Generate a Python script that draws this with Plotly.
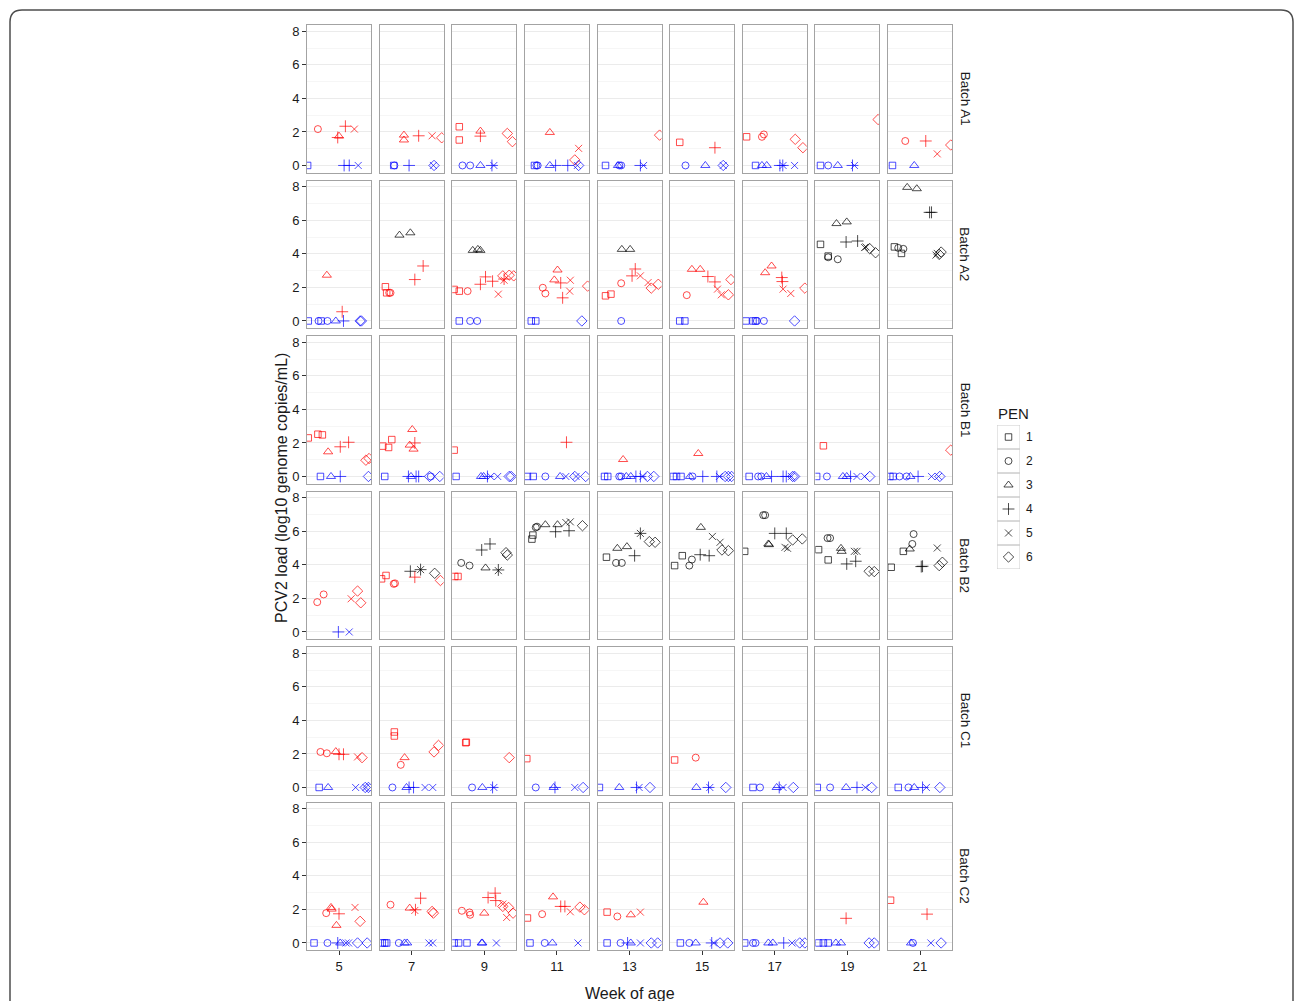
import plotly.graph_objects as go

# ---------------- data ----------------
weeks = [5, 7, 9, 11, 13, 15, 17, 19, 21]
batches = ["A1", "A2", "B1", "B2", "C1", "C2"]
pens = [1, 2, 3, 4, 5, 6]
pen_symbols = {1: "square-open", 2: "circle-open", 3: "triangle-up-open",
               4: "cross-thin-open", 5: "x-thin-open", 6: "diamond-open"}
pen_sizes = {1: 6.5, 2: 7, 3: 8, 4: 8.5, 5: 7, 6: 8}
status_colors = {"R": "#FF0000", "B": "#0000FF", "K": "#000000"}
y_ticks = [0, 2, 4, 6, 8]

# records: (week, pen, position within week (0-1), PCV2 load, status)
A1 = [
    (5,1,0.01,0,"B"),(5,2,0.17,2.17,"R"),(5,4,0.48,1.67,"R"),(5,3,0.50,1.75,"R"),(5,4,0.60,2.34,"R"),
    (5,5,0.74,2.17,"R"),(5,4,0.58,0,"B"),(5,4,0.66,0,"B"),(5,5,0.80,0,"B"),
    (7,3,0.38,1.81,"R"),(7,3,0.38,1.52,"R"),(7,4,0.61,1.77,"R"),(7,5,0.82,1.77,"R"),(7,6,0.97,1.65,"R"),
    (7,1,0.22,0,"B"),(7,2,0.23,0,"B"),(7,4,0.46,0,"B"),(7,5,0.84,0,"B"),(7,6,0.85,0,"B"),
    (9,1,0.11,2.31,"R"),(9,1,0.11,1.52,"R"),(9,3,0.44,2.05,"R"),(9,4,0.44,1.75,"R"),(9,6,0.86,1.91,"R"),
    (9,6,0.94,1.42,"R"),(9,2,0.16,0,"B"),(9,2,0.28,0,"B"),(9,3,0.44,0,"B"),(9,4,0.62,0,"B"),(9,5,0.65,0,"B"),
    (11,3,0.39,1.97,"R"),(11,5,0.84,1.02,"R"),(11,6,0.78,0.33,"R"),(11,1,0.15,0,"B"),(11,2,0.18,0,"B"),
    (11,2,0.20,0,"B"),(11,3,0.39,0,"B"),(11,4,0.48,0,"B"),(11,4,0.67,0,"B"),(11,5,0.82,0,"B"),(11,6,0.84,0,"B"),
    (13,1,0.125,0,"B"),(13,3,0.32,0,"B"),(13,2,0.34,0,"B"),(13,2,0.37,0,"B"),(13,4,0.67,0,"B"),
    (13,5,0.72,0,"B"),(13,6,0.97,1.81,"R"),
    (15,1,0.15,1.38,"R"),(15,4,0.70,1.06,"R"),(15,2,0.24,0,"B"),(15,3,0.55,0,"B"),(15,6,0.83,0,"B"),(15,5,0.83,0,"B"),
    (17,1,0.06,1.71,"R"),(17,2,0.30,1.71,"R"),(17,2,0.33,1.85,"R"),(17,6,0.82,1.56,"R"),(17,6,0.94,1.06,"R"),
    (17,1,0.20,0,"B"),(17,3,0.30,0,"B"),(17,3,0.375,0,"B"),(17,4,0.58,0,"B"),(17,4,0.625,0,"B"),
    (17,5,0.63,0,"B"),(17,5,0.81,0,"B"),
    (19,6,0.98,2.74,"R"),(19,1,0.08,0,"B"),(19,2,0.20,0,"B"),(19,3,0.35,0,"B"),(19,4,0.58,0,"B"),(19,5,0.61,0,"B"),
    (21,2,0.27,1.46,"R"),(21,4,0.59,1.46,"R"),(21,5,0.77,0.69,"R"),(21,6,0.98,1.22,"R"),(21,1,0.07,0,"B"),(21,3,0.41,0,"B"),
]

A2 = [
    (5,3,0.31,2.73,"R"),(5,4,0.55,0.55,"R"),(5,1,0.02,0,"B"),(5,2,0.18,0,"B"),(5,1,0.22,0,"B"),(5,2,0.32,0,"B"),
    (5,3,0.45,0,"B"),(5,4,0.57,0,"B"),(5,6,0.83,0,"B"),(5,6,0.85,0,"B"),
    (7,3,0.31,5.12,"K"),(7,3,0.48,5.26,"K"),(7,4,0.68,3.28,"R"),(7,4,0.55,2.47,"R"),(7,1,0.09,2.04,"R"),
    (7,1,0.11,1.68,"R"),(7,2,0.15,1.68,"R"),(7,2,0.17,1.68,"R"),
    (9,3,0.32,4.21,"K"),(9,3,0.40,4.27,"K"),(9,3,0.44,4.21,"K"),
    (9,1,0.03,1.88,"R"),(9,1,0.11,1.78,"R"),(9,2,0.24,1.78,"R"),(9,4,0.44,2.19,"R"),(9,4,0.52,2.63,"R"),
    (9,4,0.63,2.37,"R"),(9,5,0.72,1.60,"R"),(9,5,0.81,2.43,"R"),(9,4,0.81,2.50,"R"),(9,6,0.79,2.69,"R"),
    (9,6,0.89,2.73,"R"),(9,6,0.96,2.69,"R"),(9,1,0.11,0,"B"),(9,2,0.28,0,"B"),(9,2,0.39,0,"B"),
    (11,3,0.51,3.04,"R"),(11,3,0.46,2.45,"R"),(11,2,0.28,1.98,"R"),(11,2,0.32,1.64,"R"),(11,4,0.56,2.27,"R"),
    (11,4,0.59,1.38,"R"),(11,5,0.71,2.43,"R"),(11,5,0.70,1.78,"R"),(11,6,0.98,2.08,"R"),
    (11,1,0.10,0,"B"),(11,1,0.17,0,"B"),(11,6,0.89,0,"B"),
    (13,3,0.38,4.27,"K"),(13,3,0.51,4.27,"K"),(13,1,0.125,1.50,"R"),(13,1,0.21,1.60,"R"),(13,2,0.37,2.25,"R"),
    (13,4,0.59,3.10,"R"),(13,4,0.54,2.69,"R"),(13,5,0.67,2.69,"R"),(13,5,0.79,2.29,"R"),(13,6,0.84,1.96,"R"),
    (13,6,0.95,2.19,"R"),(13,2,0.37,0,"B"),
    (15,2,0.26,1.54,"R"),(15,3,0.34,3.08,"R"),(15,3,0.47,3.08,"R"),(15,4,0.59,2.65,"R"),(15,4,0.70,2.33,"R"),
    (15,5,0.74,1.90,"R"),(15,5,0.80,1.56,"R"),(15,6,0.91,1.56,"R"),(15,6,0.95,2.47,"R"),
    (15,1,0.15,0,"B"),(15,1,0.23,0,"B"),
    (17,3,0.35,2.88,"R"),(17,3,0.45,3.28,"R"),(17,4,0.61,2.59,"R"),(17,4,0.62,2.35,"R"),(17,5,0.63,1.90,"R"),
    (17,5,0.75,1.64,"R"),(17,6,0.97,1.96,"R"),(17,1,0.05,0,"B"),(17,1,0.16,0,"B"),(17,1,0.20,0,"B"),
    (17,2,0.22,0,"B"),(17,2,0.33,0,"B"),(17,6,0.81,0,"B"),
    (19,1,0.08,4.57,"K"),(19,1,0.20,3.87,"K"),(19,2,0.20,3.80,"K"),(19,2,0.35,3.68,"K"),(19,3,0.33,5.81,"K"),
    (19,3,0.49,5.91,"K"),(19,4,0.48,4.71,"K"),(19,4,0.66,4.77,"K"),(19,5,0.77,4.38,"K"),(19,5,0.79,4.42,"K"),
    (19,6,0.85,4.31,"K"),(19,6,0.94,4.07,"K"),
    (21,3,0.30,7.97,"K"),(21,3,0.45,7.89,"K"),(21,4,0.65,6.48,"K"),(21,4,0.68,6.48,"K"),(21,1,0.10,4.42,"K"),
    (21,2,0.16,4.36,"K"),(21,2,0.24,4.30,"K"),(21,1,0.21,4.03,"K"),(21,5,0.75,3.93,"K"),(21,5,0.77,4.03,"K"),
    (21,6,0.83,4.11,"K"),(21,6,0.80,3.97,"K"),
]

B1 = [
    (5,1,0.02,2.30,"R"),(5,1,0.17,2.52,"R"),(5,1,0.24,2.48,"R"),(5,3,0.33,1.47,"R"),(5,4,0.52,1.77,"R"),
    (5,4,0.65,2.04,"R"),(5,6,0.92,0.97,"R"),(5,6,0.97,1.07,"R"),
    (5,1,0.21,0,"B"),(5,3,0.375,0,"B"),(5,4,0.52,0,"B"),(5,6,0.96,0,"B"),
    (7,1,0.05,1.81,"R"),(7,1,0.14,1.73,"R"),(7,1,0.19,2.20,"R"),(7,3,0.51,2.80,"R"),(7,3,0.47,1.87,"R"),
    (7,3,0.53,1.63,"R"),(7,4,0.55,2.00,"R"),
    (7,1,0.08,0,"B"),(7,4,0.45,0,"B"),(7,3,0.49,0,"B"),(7,4,0.57,0,"B"),(7,4,0.61,0,"B"),(7,6,0.78,0,"B"),
    (7,2,0.80,0,"B"),(7,6,0.94,0,"B"),
    (9,1,0.03,1.57,"R"),(9,1,0.06,0,"B"),(9,3,0.45,0,"B"),(9,3,0.49,0,"B"),(9,4,0.55,0,"B"),(9,5,0.60,0,"B"),
    (9,5,0.71,0,"B"),(9,6,0.89,0,"B"),(9,6,0.92,0,"B"),
    (11,4,0.65,2.04,"R"),(11,1,0.04,0,"B"),(11,1,0.13,0,"B"),(11,2,0.32,0,"B"),(11,3,0.55,0,"B"),
    (11,5,0.64,0,"B"),(11,6,0.78,0,"B"),(11,5,0.80,0,"B"),(11,6,0.95,0,"B"),
    (13,3,0.40,1.01,"R"),(13,1,0.11,0,"B"),(13,1,0.16,0,"B"),(13,2,0.34,0,"B"),(13,2,0.37,0,"B"),
    (13,3,0.45,0,"B"),(13,3,0.52,0,"B"),(13,4,0.60,0,"B"),(13,4,0.67,0,"B"),(13,5,0.71,0,"B"),
    (13,6,0.78,0,"B"),(13,6,0.88,0,"B"),
    (15,3,0.44,1.37,"R"),(15,1,0.05,0,"B"),(15,1,0.10,0,"B"),(15,1,0.17,0,"B"),(15,3,0.31,0,"B"),
    (15,2,0.35,0,"B"),(15,4,0.51,0,"B"),(15,4,0.73,0,"B"),(15,5,0.77,0,"B"),(15,6,0.86,0,"B"),
    (15,6,0.91,0,"B"),(15,6,0.96,0,"B"),
    (17,1,0.10,0,"B"),(17,2,0.24,0,"B"),(17,2,0.29,0,"B"),(17,3,0.37,0,"B"),(17,4,0.45,0,"B"),
    (17,4,0.63,0,"B"),(17,4,0.68,0,"B"),(17,5,0.76,0,"B"),(17,6,0.78,0,"B"),(17,6,0.81,0,"B"),
    (19,1,0.125,1.83,"R"),(19,1,0.02,0,"B"),(19,2,0.18,0,"B"),(19,3,0.43,0,"B"),(19,3,0.49,0,"B"),
    (19,4,0.55,0,"B"),(19,5,0.65,0,"B"),(19,5,0.77,0,"B"),(19,6,0.85,0,"B"),
    (21,6,0.98,1.57,"R"),(21,1,0.03,0,"B"),(21,1,0.08,0,"B"),(21,2,0.18,0,"B"),(21,2,0.29,0,"B"),
    (21,3,0.35,0,"B"),(21,4,0.47,0,"B"),(21,5,0.68,0,"B"),(21,5,0.79,0,"B"),(21,6,0.81,0,"B"),
]

B2 = [
    (5,2,0.16,1.78,"R"),(5,2,0.26,2.24,"R"),(5,5,0.69,1.98,"R"),(5,6,0.79,2.44,"R"),(5,6,0.84,1.74,"R"),
    (5,4,0.49,0,"B"),(5,5,0.66,0,"B"),
    (7,1,0.03,3.17,"R"),(7,1,0.10,3.37,"R"),(7,2,0.22,2.87,"R"),(7,2,0.24,2.90,"R"),(7,4,0.55,3.27,"R"),
    (7,6,0.95,3.07,"R"),(7,4,0.48,3.62,"K"),(7,4,0.64,3.72,"K"),(7,5,0.64,3.72,"K"),(7,6,0.86,3.50,"K"),
    (9,1,0.04,3.31,"R"),(9,1,0.09,3.31,"R"),(9,2,0.14,4.12,"K"),(9,2,0.27,3.96,"K"),(9,4,0.46,4.89,"K"),
    (9,4,0.59,5.25,"K"),(9,3,0.52,3.82,"K"),(9,5,0.72,3.66,"K"),(9,4,0.72,3.70,"K"),(9,6,0.84,4.73,"K"),
    (9,6,0.86,4.59,"K"),
    (11,1,0.11,5.54,"K"),(11,1,0.125,5.78,"K"),(11,2,0.19,6.28,"K"),(11,2,0.17,6.24,"K"),(11,3,0.32,6.40,"K"),
    (11,3,0.51,6.40,"K"),(11,4,0.48,5.98,"K"),(11,4,0.69,6.04,"K"),(11,5,0.64,6.53,"K"),(11,5,0.71,6.57,"K"),
    (11,6,0.90,6.34,"K"),
    (13,1,0.14,4.46,"K"),(13,2,0.29,4.12,"K"),(13,2,0.38,4.12,"K"),(13,3,0.31,4.99,"K"),(13,3,0.46,5.09,"K"),
    (13,4,0.58,4.55,"K"),(13,4,0.67,5.88,"K"),(13,5,0.67,5.88,"K"),(13,6,0.81,5.39,"K"),(13,6,0.90,5.35,"K"),
    (15,1,0.07,3.96,"K"),(15,1,0.19,4.55,"K"),(15,2,0.30,3.96,"K"),(15,2,0.34,4.32,"K"),(15,3,0.48,6.24,"K"),
    (15,4,0.47,4.61,"K"),(15,4,0.61,4.55,"K"),(15,5,0.66,5.70,"K"),(15,5,0.78,5.35,"K"),(15,6,0.81,4.89,"K"),
    (15,6,0.91,4.85,"K"),
    (17,1,0.03,4.81,"K"),(17,2,0.32,6.97,"K"),(17,2,0.35,6.97,"K"),(17,3,0.40,5.25,"K"),(17,3,0.41,5.21,"K"),
    (17,4,0.50,5.88,"K"),(17,4,0.68,5.88,"K"),(17,5,0.66,5.05,"K"),(17,5,0.70,4.99,"K"),(17,6,0.78,5.49,"K"),
    (17,6,0.93,5.55,"K"),
    (19,1,0.05,4.91,"K"),(19,1,0.20,4.30,"K"),(19,2,0.19,5.60,"K"),(19,2,0.23,5.60,"K"),(19,3,0.40,4.99,"K"),
    (19,3,0.41,4.81,"K"),(19,4,0.49,4.06,"K"),(19,4,0.63,4.22,"K"),(19,5,0.61,4.81,"K"),(19,5,0.65,4.81,"K"),
    (19,6,0.84,3.62,"K"),(19,6,0.92,3.60,"K"),
    (21,1,0.05,3.86,"K"),(21,1,0.24,4.81,"K"),(21,2,0.40,5.84,"K"),(21,2,0.38,5.25,"K"),(21,3,0.34,4.95,"K"),
    (21,4,0.52,3.90,"K"),(21,4,0.54,3.92,"K"),(21,5,0.77,5.01,"K"),(21,6,0.80,3.96,"K"),(21,6,0.85,4.16,"K"),
]

C1 = [
    (5,2,0.21,2.12,"R"),(5,2,0.31,2.04,"R"),(5,3,0.45,2.14,"R"),(5,4,0.50,1.98,"R"),(5,4,0.57,1.98,"R"),
    (5,5,0.79,1.82,"R"),(5,6,0.86,1.78,"R"),(5,1,0.19,0,"B"),(5,3,0.33,0,"B"),(5,5,0.76,0,"B"),
    (5,6,0.91,0,"B"),(5,6,0.96,0,"B"),(5,5,0.92,0,"B"),
    (7,1,0.23,3.31,"R"),(7,1,0.23,3.07,"R"),(7,2,0.33,1.35,"R"),(7,3,0.39,1.78,"R"),(7,6,0.85,2.12,"R"),
    (7,6,0.92,2.51,"R"),(7,2,0.20,0,"B"),(7,3,0.42,0,"B"),(7,4,0.46,0,"B"),(7,4,0.53,0,"B"),
    (7,5,0.71,0,"B"),(7,5,0.83,0,"B"),
    (9,1,0.21,2.67,"R"),(9,1,0.22,2.70,"R"),(9,6,0.89,1.78,"R"),(9,2,0.31,0,"B"),(9,3,0.47,0,"B"),
    (9,4,0.63,0,"B"),(9,5,0.65,0,"B"),
    (11,1,0.03,1.72,"R"),(11,2,0.17,0,"B"),(11,3,0.45,0,"B"),(11,4,0.47,0,"B"),(11,5,0.78,0,"B"),(11,6,0.91,0,"B"),
    (13,1,0.03,0,"B"),(13,3,0.34,0,"B"),(13,4,0.61,0,"B"),(13,5,0.65,0,"B"),(13,6,0.82,0,"B"),
    (15,1,0.07,1.64,"R"),(15,2,0.40,1.78,"R"),(15,3,0.41,0,"B"),(15,4,0.60,0,"B"),(15,5,0.62,0,"B"),(15,6,0.87,0,"B"),
    (17,1,0.16,0,"B"),(17,2,0.27,0,"B"),(17,3,0.53,0,"B"),(17,4,0.57,0,"B"),(17,5,0.63,0,"B"),(17,6,0.79,0,"B"),
    (19,1,0.03,0,"B"),(19,2,0.23,0,"B"),(19,3,0.48,0,"B"),(19,4,0.65,0,"B"),(19,5,0.78,0,"B"),(19,6,0.88,0,"B"),
    (21,1,0.16,0,"B"),(21,2,0.32,0,"B"),(21,3,0.41,0,"B"),(21,4,0.54,0,"B"),(21,5,0.60,0,"B"),(21,6,0.81,0,"B"),
]

C2 = [
    (5,2,0.30,1.78,"R"),(5,3,0.375,2.12,"R"),(5,3,0.385,2.02,"R"),(5,4,0.50,1.74,"R"),(5,3,0.46,1.05,"R"),
    (5,5,0.75,2.12,"R"),(5,6,0.83,1.29,"R"),(5,1,0.11,0,"B"),(5,2,0.32,0,"B"),(5,4,0.48,0,"B"),
    (5,3,0.52,0,"B"),(5,5,0.61,0,"B"),(5,5,0.65,0,"B"),(5,6,0.79,0,"B"),(5,6,0.94,0,"B"),
    (7,2,0.17,2.28,"R"),(7,3,0.47,2.08,"R"),(7,4,0.56,1.98,"R"),(7,4,0.64,2.67,"R"),(7,5,0.55,1.94,"R"),
    (7,6,0.82,1.88,"R"),(7,6,0.84,1.78,"R"),(7,1,0.04,0,"B"),(7,1,0.08,0,"B"),(7,1,0.11,0,"B"),
    (7,2,0.30,0,"B"),(7,3,0.39,0,"B"),(7,3,0.43,0,"B"),(7,5,0.77,0,"B"),(7,5,0.83,0,"B"),
    (9,2,0.15,1.92,"R"),(9,2,0.27,1.82,"R"),(9,2,0.28,1.68,"R"),(9,3,0.50,1.78,"R"),(9,4,0.56,2.71,"R"),
    (9,4,0.67,2.97,"R"),(9,4,0.68,2.53,"R"),(9,5,0.79,2.32,"R"),(9,5,0.85,1.52,"R"),(9,6,0.79,2.18,"R"),
    (9,6,0.88,2.12,"R"),(9,6,0.95,1.78,"R"),(9,1,0.03,0,"B"),(9,1,0.10,0,"B"),(9,1,0.23,0,"B"),
    (9,3,0.46,0,"B"),(9,3,0.47,0,"B"),(9,5,0.69,0,"B"),
    (11,1,0.04,1.49,"R"),(11,2,0.27,1.72,"R"),(11,3,0.44,2.75,"R"),(11,4,0.56,2.18,"R"),(11,4,0.625,2.18,"R"),
    (11,5,0.71,1.86,"R"),(11,6,0.86,2.14,"R"),(11,6,0.93,1.98,"R"),(11,1,0.08,0,"B"),(11,2,0.31,0,"B"),
    (11,3,0.43,0,"B"),(11,5,0.83,0,"B"),
    (13,1,0.15,1.84,"R"),(13,2,0.31,1.58,"R"),(13,3,0.52,1.68,"R"),(13,5,0.67,1.84,"R"),(13,1,0.15,0,"B"),
    (13,2,0.36,0,"B"),(13,4,0.47,0,"B"),(13,3,0.52,0,"B"),(13,5,0.67,0,"B"),(13,6,0.84,0,"B"),(13,6,0.94,0,"B"),
    (15,3,0.52,2.43,"R"),(15,1,0.16,0,"B"),(15,2,0.30,0,"B"),(15,3,0.40,0,"B"),(15,4,0.65,0,"B"),
    (15,5,0.68,0,"B"),(15,6,0.78,0,"B"),(15,6,0.90,0,"B"),
    (17,1,0.03,0,"B"),(17,2,0.16,0,"B"),(17,2,0.20,0,"B"),(17,3,0.40,0,"B"),(17,3,0.47,0,"B"),
    (17,4,0.64,0,"B"),(17,5,0.77,0,"B"),(17,6,0.89,0,"B"),(17,6,0.97,0,"B"),
    (19,4,0.48,1.47,"R"),(19,1,0.05,0,"B"),(19,1,0.125,0,"B"),(19,1,0.20,0,"B"),(19,3,0.32,0,"B"),
    (19,3,0.40,0,"B"),(19,6,0.84,0,"B"),(19,6,0.92,0,"B"),
    (21,1,0.04,2.55,"R"),(21,4,0.61,1.72,"R"),(21,3,0.36,0,"B"),(21,2,0.39,0,"B"),(21,5,0.67,0,"B"),(21,6,0.83,0,"B"),
]

batch_data = {"A1": A1, "A2": A2, "B1": B1, "B2": B2, "C1": C1, "C2": C2}

# ---------------- layout geometry (pixels) ----------------
W_FIG, H_FIG = 1295, 1001
ML, MR, MT, MB = 260, 200, 20, 40
PW = W_FIG - ML - MR
PH = H_FIG - MT - MB


def xp(px):
    return (px - ML) / PW


def yp(py):
    return (H_FIG - MB - py) / PH


COL0, COLSTEP, COLW = 307.0, 72.625, 64.0
ROW0, ROWSTEP, ROWH = 25.0, 155.5, 147.5

FONT = "Liberation Sans, Arial, Helvetica, sans-serif"
BORDER = "#A3A3A3"
TXT = "#1A1A1A"

fig = go.Figure()
layout_axes = {}

for r, b in enumerate(batches):
    recs = batch_data[b]
    for c, w in enumerate(weeks):
        k = r * len(weeks) + c + 1
        sub = [t for t in recs if t[0] == w]
        xs = [t[2] for t in sub]
        ys = [t[3] for t in sub]
        cols = [status_colors[t[4]] for t in sub]
        syms = [pen_symbols[t[1]] for t in sub]
        sizes = [pen_sizes[t[1]] for t in sub]
        fig.add_trace(go.Scatter(
            x=xs, y=ys, mode="markers",
            xaxis=f"x{k}", yaxis=f"y{k}", showlegend=False, cliponaxis=True,
            marker=dict(symbol=syms, size=sizes, color=cols,
                        line=dict(color=cols, width=1)),
            hoverinfo="skip"))

        left = COL0 + c * COLSTEP
        top = ROW0 + r * ROWSTEP
        bottom_row = (r == len(batches) - 1)
        left_col = (c == 0)
        layout_axes[f"xaxis{k}"] = dict(
            domain=[xp(left), xp(left + COLW)], range=[0, 1], anchor=f"y{k}",
            showgrid=False, zeroline=False, showline=True, mirror=True,
            linecolor=BORDER, linewidth=1,
            tickmode="array", tickvals=[0.5], ticktext=[str(w)],
            showticklabels=bottom_row, ticks="outside" if bottom_row else "",
            ticklen=4, tickcolor="#333333", tickwidth=1,
            tickfont=dict(family=FONT, size=13, color=TXT), fixedrange=True)
        layout_axes[f"yaxis{k}"] = dict(
            domain=[yp(top + ROWH), yp(top)], range=[-0.42, 8.38], anchor=f"x{k}",
            tickmode="array", tickvals=y_ticks, ticktext=[str(v) for v in y_ticks],
            showgrid=True, gridcolor="#EBEBEB", gridwidth=1, zeroline=False,
            minor=dict(tickvals=[1, 3, 5, 7], showgrid=True, gridcolor="#F6F6F6", gridwidth=1),
            showline=True, mirror=True, linecolor=BORDER, linewidth=1,
            showticklabels=left_col, ticks="outside" if left_col else "",
            ticklen=4, tickcolor="#333333", tickwidth=1,
            tickfont=dict(family=FONT, size=13, color=TXT), fixedrange=True)

# ---------------- manual legend ----------------
kL = len(batches) * len(weeks) + 1
fig.add_trace(go.Scatter(
    x=[0] * len(pens), y=pens, mode="markers", xaxis=f"x{kL}", yaxis=f"y{kL}",
    showlegend=False, hoverinfo="skip",
    marker=dict(symbol=[pen_symbols[p] for p in pens], size=[pen_sizes[p] for p in pens],
                color="#000000", line=dict(color="#000000", width=1))))
LEG_L, LEG_R, LEG_T, LEG_STEP = 997, 1020, 425, 24
layout_axes[f"xaxis{kL}"] = dict(domain=[xp(LEG_L), xp(LEG_R)], range=[-1, 1],
                                 visible=False, anchor=f"y{kL}", fixedrange=True)
layout_axes[f"yaxis{kL}"] = dict(domain=[yp(LEG_T + LEG_STEP * len(pens)), yp(LEG_T)],
                                 range=[len(pens) + 0.5, 0.5], visible=False,
                                 anchor=f"x{kL}", fixedrange=True)

shapes = []
annotations = []
for p in pens:
    shapes.append(dict(type="rect", xref=f"x{kL}", yref=f"y{kL}", x0=-1, x1=1,
                       y0=p - 0.5, y1=p + 0.5, line=dict(color="#CCCCCC", width=1),
                       fillcolor="rgba(0,0,0,0)", layer="below"))
    annotations.append(dict(xref="paper", yref=f"y{kL}", x=xp(LEG_R + 4), y=p,
                            text=str(p), showarrow=False, xanchor="left", yanchor="middle",
                            font=dict(family=FONT, size=12, color=TXT)))
annotations.append(dict(xref="paper", yref="paper", x=xp(996), y=yp(413), text="PEN",
                        showarrow=False, xanchor="left", yanchor="middle",
                        font=dict(family=FONT, size=15, color=TXT)))

# strip labels
for r, b in enumerate(batches):
    top = ROW0 + r * ROWSTEP
    annotations.append(dict(xref="paper", yref="paper", x=xp(965), y=yp(top + ROWH / 2),
                            text=f"Batch {b}", textangle=90, showarrow=False,
                            xanchor="center", yanchor="middle",
                            font=dict(family=FONT, size=13.5, color=TXT)))

# axis titles
annotations.append(dict(xref="paper", yref="paper", x=xp(281), y=yp(488),
                        text="PCV2 load (log10 genome copies/mL)", textangle=-90,
                        xanchor="center", yanchor="middle",
                        showarrow=False, font=dict(family=FONT, size=16, color=TXT)))
annotations.append(dict(xref="paper", yref="paper", x=xp(630), y=yp(993),
                        text="Week of age", showarrow=False,
                        xanchor="center", yanchor="middle",
                        font=dict(family=FONT, size=16, color=TXT)))

# outer rounded frame
R_ = 12
x0, x1, y0, y1 = 10, 1293, 10, 1015
path = (f"M {xp(x0)},{yp(y0 + R_)} Q {xp(x0)},{yp(y0)} {xp(x0 + R_)},{yp(y0)} "
        f"L {xp(x1 - R_)},{yp(y0)} Q {xp(x1)},{yp(y0)} {xp(x1)},{yp(y0 + R_)} "
        f"L {xp(x1)},{yp(y1)} M {xp(x0)},{yp(y0 + R_)} L {xp(x0)},{yp(y1)}")
shapes.append(dict(type="path", xref="paper", yref="paper", path=path,
                   line=dict(color="#4D4D4D", width=1.5)))

fig.update_layout(
    width=W_FIG, height=H_FIG,
    margin=dict(l=ML, r=MR, t=MT, b=MB, autoexpand=False),
    paper_bgcolor="white", plot_bgcolor="white",
    font=dict(family=FONT, color=TXT),
    shapes=shapes, annotations=annotations, showlegend=False,
    **layout_axes)

fig.write_html("out.html", config={"displayModeBar": False},
               post_script="document.body.style.margin='0px';document.body.style.padding='0px';")
